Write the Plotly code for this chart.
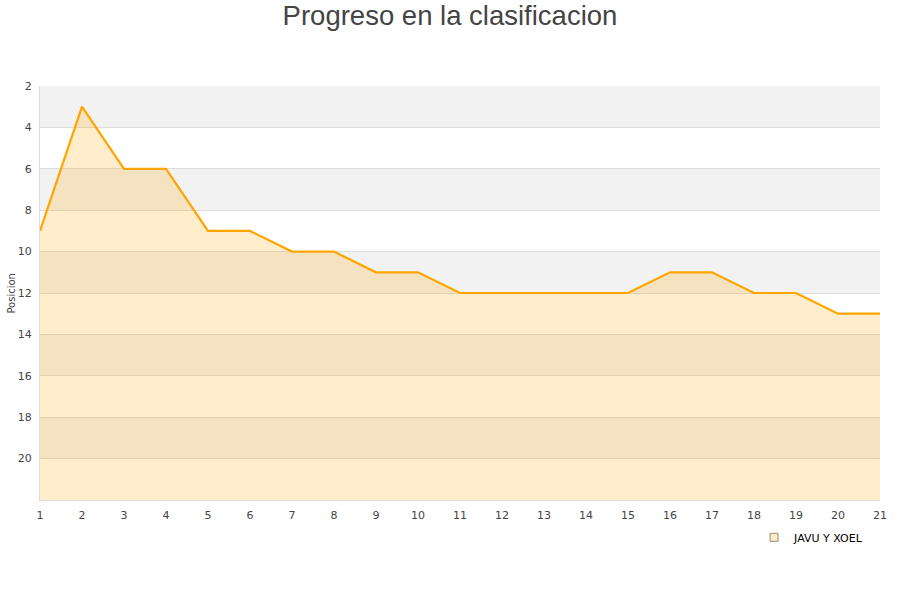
import plotly.graph_objects as go

jornadas = list(range(1, 22))
posicion = [9, 3, 6, 6, 9, 9, 10, 10, 11, 11, 12, 12, 12, 12, 12, 11, 11, 12, 12, 13, 13]
serie = "JAVU Y XOEL"
titulo = "Progreso en la clasificacion"
y_label = "Posicion"
y_ticks = [2, 4, 6, 8, 10, 12, 14, 16, 18, 20]
bands = [(2, 4), (6, 8), (10, 12), (14, 16), (18, 20)]

fig = go.Figure()
# fill to bottom (position 22)
fig.add_trace(go.Scatter(
    x=jornadas + jornadas[::-1], y=posicion + [22] * len(jornadas),
    mode="none", fill="toself", fillcolor="rgba(255,165,0,0.2)",
    hoverinfo="skip", showlegend=False,
))
fig.add_trace(go.Scatter(
    x=jornadas, y=posicion, mode="lines", name=serie,
    line=dict(color="#FFA500", width=2.2), showlegend=False,
))
# legend entry
fig.add_trace(go.Scatter(
    x=[None], y=[None], mode="markers", name=serie,
    marker=dict(symbol="square", size=8, color="#FEEBC8",
                line=dict(color="#9a8a70", width=1)),
))

shapes = []
for a, b in bands:
    shapes.append(dict(type="rect", xref="paper", yref="y", x0=0, x1=1, y0=a, y1=b,
                       fillcolor="#F2F2F2", line=dict(width=0), layer="below"))

fig.update_layout(
    width=900, height=600,
    paper_bgcolor="white", plot_bgcolor="white",
    title=dict(text=titulo, x=0.5, xanchor="center", y=0.975, yanchor="middle",
               font=dict(family="Liberation Sans, Arial, sans-serif", size=27.5, color="#444444")),
    margin=dict(l=40, r=20, t=86, b=100, autoexpand=False),
    shapes=shapes,
    font=dict(family="DejaVu Sans, sans-serif", size=11, color="#444444"),
    xaxis=dict(range=[1, 21], tickmode="array", tickvals=jornadas, automargin=False,
               showgrid=False, zeroline=False, showline=True, linecolor="#dddddd",
               ticks="", ticklabelstandoff=5, tickfont=dict(size=11, color="#444444")),
    yaxis=dict(range=[22, 2], tickmode="array", tickvals=y_ticks, automargin=False,
               showgrid=True, gridcolor="#dddddd", gridwidth=1, zeroline=False,
               showline=True, linecolor="#dddddd", ticks="", ticklabelstandoff=5,
               tickfont=dict(size=11, color="#444444")),
    annotations=[dict(text=y_label, xref="paper", yref="paper", x=-0.035, y=0.5,
                      xanchor="center", yanchor="middle", textangle=-90, showarrow=False,
                      font=dict(size=10, color="#444444"))],
    legend=dict(x=0.987, y=-0.055, xanchor="right", yanchor="top",
                font=dict(size=11, color="#000000"), bgcolor="rgba(0,0,0,0)"),
    showlegend=True,
)

fig.write_html("out.html", config={"displayModeBar": False},
               post_script="document.body.style.margin='0';")
